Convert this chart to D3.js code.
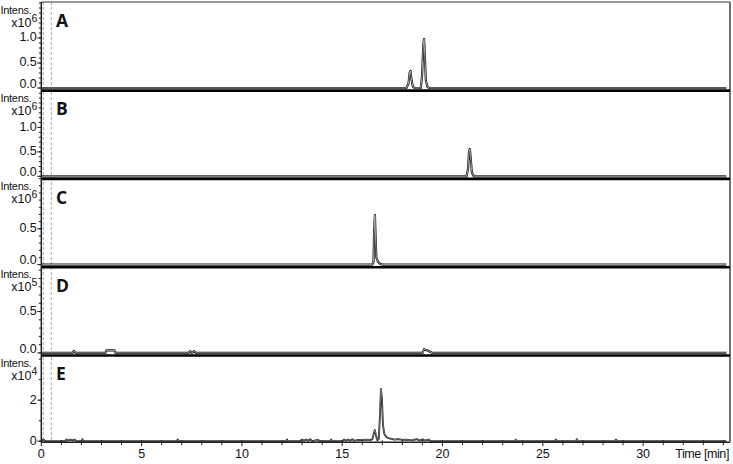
<!DOCTYPE html>
<html>
<head>
<meta charset="utf-8">
<script src="https://cdn.jsdelivr.net/npm/d3@7"></script>
<style>
  body { margin: 0; background: #fff; }
  svg { display: block; }
  text { font-family: "Liberation Sans", Arial, sans-serif; fill: #111; }
</style>
</head>
<body>
<div id="chart"></div>
<script>
const width = 733;
const height = 464;

// panel letters, intensity exponent, y range (in units of 10^exp)
const panelNames = ["A", "B", "C", "D", "E"];
const exponents = [6, 6, 6, 5, 4];
const yMax = [1.72, 1.76, 1.2, 1.04, 4.19];
const majorTicks = [[0, 0.5, 1.0], [0, 0.5, 1.0], [0, 0.5], [0, 0.5], [0, 2]];
const minorStep = [0.1, 0.1, 0.1, 0.1, 1];
const tickFormats = [".1f", ".1f", ".1f", ".1f", "d"];

// x axis
const timeMax = 34.33;
const timeTicks = [0, 5, 10, 15, 20, 25, 30];
const dashedTimes = [0.1, 0.5];

// traces [time (min), intensity]
const traceA = [[0, 0], [18.2, 0], [18.3, 0.08], [18.36, 0.3], [18.4, 0.34], [18.45, 0.18], [18.52, 0.03], [18.6, 0],
  [18.92, 0], [18.98, 0.25], [19.04, 0.85], [19.08, 0.98], [19.12, 0.6], [19.17, 0.15], [19.25, 0.02], [19.35, 0], [34.15, 0]];
const traceB = [[0, 0], [21.2, 0], [21.27, 0.15], [21.32, 0.5], [21.36, 0.56], [21.4, 0.4], [21.46, 0.08], [21.56, 0], [34.15, 0]];
const traceC = [[0, 0], [16.5, 0], [16.56, 0.04], [16.59, 0.45], [16.63, 0.69], [16.66, 0.4], [16.7, 0.1], [16.78, 0.04], [16.9, 0.01], [17.0, 0], [34.15, 0]];
const traceD = [[0, 0], [1.55, 0], [1.62, 0.025], [1.7, 0], [3.2, 0], [3.25, 0.03], [3.65, 0.03], [3.7, 0],
  [7.35, 0], [7.42, 0.02], [7.5, 0], [7.62, 0.02], [7.7, 0], [19.0, 0], [19.08, 0.045], [19.2, 0.035], [19.4, 0.01], [19.5, 0], [34.15, 0]];
const traceE = [[0, 0], [0.1, 0.08], [0.2, 0], [1.2, 0], [1.25, 0.08], [1.35, 0.02], [1.45, 0.08], [1.55, 0.02], [1.65, 0.08], [1.75, 0],
  [2.0, 0], [2.05, 0.1], [2.1, 0], [6.75, 0], [6.8, 0.08], [6.85, 0], [12.2, 0], [12.25, 0.08], [12.3, 0],
  [12.9, 0], [13.0, 0.08], [13.1, 0.02], [13.2, 0.08], [13.3, 0.02], [13.4, 0.1], [13.5, 0], [13.8, 0.06], [13.9, 0],
  [14.4, 0], [14.45, 0.08], [14.5, 0], [15.0, 0], [15.1, 0.08], [15.2, 0.02], [15.3, 0.08], [15.4, 0.02], [15.5, 0.1], [15.6, 0.02],
  [15.8, 0.06], [16.0, 0.05], [16.2, 0.08], [16.4, 0.05], [16.5, 0.1], [16.56, 0.3], [16.62, 0.55], [16.68, 0.3], [16.75, 0.05],
  [16.82, 0.1], [16.88, 1.2], [16.93, 2.55], [16.98, 2.1], [17.03, 0.8], [17.1, 0.35], [17.2, 0.2], [17.4, 0.12], [17.6, 0.08],
  [17.8, 0.1], [18.0, 0.06], [18.2, 0.08], [18.5, 0.04], [18.7, 0.1], [18.9, 0.03], [19.0, 0.1], [19.1, 0.03], [19.3, 0.08], [19.4, 0],
  [23.6, 0], [23.65, 0.07], [23.7, 0], [25.6, 0], [25.65, 0.08], [25.7, 0], [26.65, 0], [26.7, 0.1], [26.75, 0],
  [28.6, 0], [28.65, 0.08], [28.7, 0], [34.15, 0]];
const traces = [traceA, traceB, traceC, traceD, traceE];

// layout
const plotLeft = 41.3, plotRight = 730, plotTop = 2;
const panelH = 88.3, plotH = 86;

const x = d3.scaleLinear().domain([0, timeMax]).range([plotLeft, plotRight]);

const svg = d3.select("#chart").append("svg")
    .attr("width", width)
    .attr("height", height);

const axisBottom = plotTop + 4 * panelH + plotH + 1;

// dashed markers
svg.append("g").selectAll("line")
    .data(dashedTimes)
    .enter().append("line")
    .attr("x1", d => x(d)).attr("x2", d => x(d))
    .attr("y1", plotTop).attr("y2", axisBottom)
    .attr("stroke", "#aaa")
    .attr("stroke-width", 1)
    .attr("stroke-dasharray", "3,2");

// frame: top and right
svg.append("line")
    .attr("x1", plotLeft).attr("x2", plotRight).attr("y1", plotTop).attr("y2", plotTop)
    .attr("stroke", "#777").attr("stroke-width", 1.5);
svg.append("line")
    .attr("x1", plotRight).attr("x2", plotRight).attr("y1", plotTop).attr("y2", axisBottom)
    .attr("stroke", "#444").attr("stroke-width", 1.5);

const line = d3.line();

panelNames.forEach((name, i) => {
    const pTop = plotTop + i * panelH;
    const base = pTop + plotH;
    const y = d3.scaleLinear().domain([0, yMax[i]]).range([base, pTop]);
    const g = svg.append("g");

    // trace drawn as an outlined stroke
    const pts = traces[i].map(d => [x(d[0]), y(d[1])]);
    g.append("path")
        .attr("d", line(pts))
        .attr("fill", "none")
        .attr("stroke", "#111")
        .attr("stroke-width", i === 4 ? 1.8 : 2.2)
        .attr("stroke-linejoin", "round");
    g.append("path")
        .attr("d", line(pts))
        .attr("fill", "none")
        .attr("stroke", "#fff")
        .attr("stroke-width", i === 4 ? 0.4 : 0.6)
        .attr("stroke-linejoin", "round");

    // separator / bottom line
    if (i < 4) {
        g.append("line")
            .attr("x1", plotLeft).attr("x2", plotRight)
            .attr("y1", base + 2.6).attr("y2", base + 2.6)
            .attr("stroke", "#000").attr("stroke-width", 2.6);
    }

    // y ticks
    const minors = d3.range(0, yMax[i] + 1e-9, minorStep[i]);
    g.append("g").selectAll("line")
        .data(minors)
        .enter().append("line")
        .attr("x1", plotLeft - 2.5).attr("x2", plotLeft)
        .attr("y1", d => y(d)).attr("y2", d => y(d))
        .attr("stroke", "#222").attr("stroke-width", 1);
    g.append("g").selectAll("line")
        .data(majorTicks[i])
        .enter().append("line")
        .attr("x1", plotLeft - 4).attr("x2", plotLeft)
        .attr("y1", d => y(d)).attr("y2", d => y(d))
        .attr("stroke", "#222").attr("stroke-width", 1);
    g.append("g").selectAll("text")
        .data(majorTicks[i])
        .enter().append("text")
        .attr("x", plotLeft - 4.5)
        .attr("y", d => y(d) - (d === 0 && i < 4 ? 4.5 : 1))
        .attr("dy", "0.35em")
        .attr("text-anchor", "end")
        .style("font-size", "12.5px")
        .text(d => d3.format(tickFormats[i])(d));

    // "Intens." and exponent
    g.append("text")
        .attr("x", 0.5).attr("y", pTop + 11.5)
        .style("font-size", "11px")
        .style("letter-spacing", "-0.3px")
        .text("Intens.");
    const ex = g.append("text")
        .attr("x", plotLeft - 4).attr("y", pTop + 24.5)
        .attr("text-anchor", "end")
        .style("font-size", "12.5px");
    ex.append("tspan").text("x10");
    ex.append("tspan").attr("dy", -5).style("font-size", "10.5px").text(exponents[i]);

    // panel letter
    g.append("text")
        .attr("x", 56).attr("y", pTop + 25)
        .style("font-family", "'Open Sans', sans-serif")
        .style("font-weight", "bold")
        .style("font-size", "17.5px")
        .text(name);
});

// y axis line
svg.append("line")
    .attr("x1", plotLeft).attr("x2", plotLeft).attr("y1", plotTop).attr("y2", axisBottom)
    .attr("stroke", "#222").attr("stroke-width", 1.5);

// x axis
svg.append("line")
    .attr("x1", plotLeft).attr("x2", plotRight).attr("y1", axisBottom).attr("y2", axisBottom)
    .attr("stroke", "#222").attr("stroke-width", 1.5);
svg.append("g").selectAll("line")
    .data(d3.range(0, Math.floor(timeMax) + 1))
    .enter().append("line")
    .attr("x1", d => x(d)).attr("x2", d => x(d))
    .attr("y1", axisBottom - 2).attr("y2", d => axisBottom + (d % 5 === 0 ? 4 : 3))
    .attr("stroke", "#222").attr("stroke-width", 1);
svg.append("g").selectAll("text")
    .data(timeTicks)
    .enter().append("text")
    .attr("x", d => x(d))
    .attr("y", axisBottom + 16)
    .attr("text-anchor", "middle")
    .style("font-size", "12.5px")
    .text(d => d);
svg.append("text")
    .attr("x", 729).attr("y", axisBottom + 16)
    .attr("text-anchor", "end")
    .style("font-size", "12.5px")
    .style("letter-spacing", "-0.4px")
    .text("Time [min]");
</script>
</body>
</html>
